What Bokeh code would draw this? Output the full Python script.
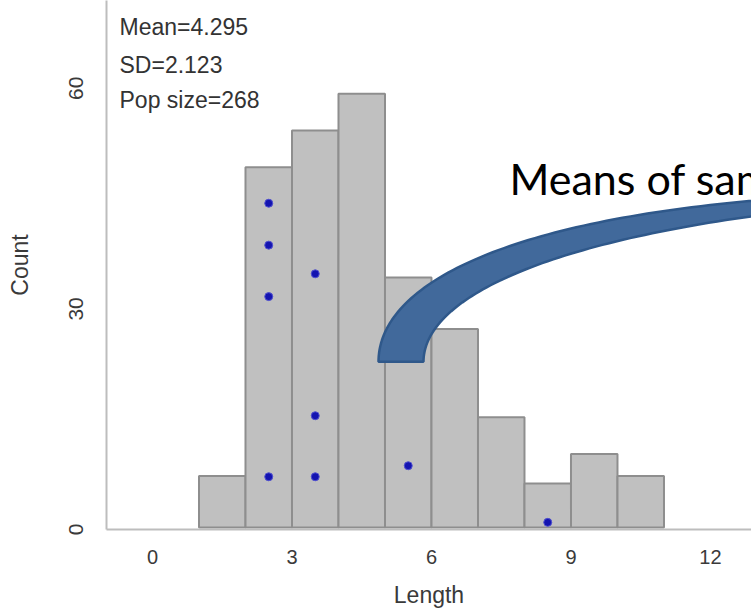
import math
import numpy as np
from bokeh.plotting import figure
from bokeh.models import Range1d, FixedTicker
from bokeh.core.properties import value
from bokeh.embed import file_html
from bokeh.resources import INLINE

# ---------------- data ----------------
bin_left = [1, 2, 3, 4, 5, 6, 7, 8, 9, 10]
bin_right = [2, 3, 4, 5, 6, 7, 8, 9, 10, 11]
counts = [7, 49, 54, 59, 34, 27, 15, 6, 10, 7]

mean_x = [2.5, 2.5, 2.5, 2.5, 3.5, 3.5, 3.5, 5.5, 8.5]
mean_y = [44.1, 38.4, 31.4, 6.9, 34.5, 15.2, 6.9, 8.4, 0.7]

x_ticks = [0, 3, 6, 9, 12]
y_ticks = [0, 30, 60]
y_tick_labels = ["0", "30", "60"]
stats_lines = ["Mean=4.295", "SD=2.123", "Pop size=268"]
callout = "Means of samples"

# ---------------- layout ----------------
W, H = 751, 610
FL, FT = 106, 0
FW, FH = W - FL, 530
X0, X1 = -0.989, 12.882
Y0, Y1 = -0.271, 71.67
PX_PER_Y = FH / (Y1 - Y0)


def dx(px):
    return X0 + (px - FL) / FW * (X1 - X0)


def dy(py):
    return Y1 - (py - FT) / FH * (Y1 - Y0)


p = figure(width=W, height=H, output_backend="svg", toolbar_location=None,
           x_range=Range1d(X0, X1), y_range=Range1d(Y0, Y1),
           min_border_left=FL, min_border_right=0, min_border_top=0,
           min_border_bottom=H - FH)
p.outline_line_color = None
p.grid.visible = False
p.background_fill_color = "white"
p.border_fill_color = "white"

tick_font = "Liberation Sans"
for ax in (p.xaxis[0], p.yaxis[0]):
    ax.axis_line_color = "#bdbdbd"
    ax.axis_line_width = 2
    ax.major_tick_line_color = None
    ax.minor_tick_line_color = None
    ax.major_tick_in = 0
    ax.major_tick_out = 0
    ax.minor_tick_in = 0
    ax.minor_tick_out = 0
    ax.major_label_text_font = tick_font
    ax.major_label_text_color = "#3a3a3a"
    ax.axis_label_text_font = tick_font
    ax.axis_label_text_font_size = "23px"
    ax.axis_label_text_font_style = "normal"
    ax.axis_label_text_color = "#3a3a3a"

p.xaxis.major_label_text_font_size = "20px"
p.yaxis.major_label_text_font_size = "21px"
p.xaxis.ticker = FixedTicker(ticks=x_ticks)

# rotated y labels: Bokeh anchors them at one end, so shift each tick by half its text length
Y_FS = 21
shifted = []
overrides = {}
for v, lab in zip(y_ticks, y_tick_labels):
    s = round(v + (len(lab) * 0.556 * Y_FS / 2 - 2) / PX_PER_Y, 3)
    shifted.append(s)
    overrides[s] = lab
p.yaxis.ticker = FixedTicker(ticks=shifted)
p.yaxis.major_label_overrides = overrides

p.xaxis.axis_label = "Length"
p.yaxis.axis_label = "Count"
p.xaxis.major_label_standoff = 20
p.xaxis.axis_label_standoff = 15
p.yaxis.major_label_standoff = 30
p.yaxis.axis_label_standoff = 27
p.yaxis.major_label_orientation = math.pi / 2

# histogram bars
p.quad(left=bin_left, right=bin_right, bottom=0, top=counts,
       fill_color="#c0c0c0", line_color="#8e8e8e", line_width=2)

# sample means
p.scatter(mean_x, mean_y, marker="circle", size=8,
          fill_color="#1414b0", line_color="#5050d0", line_width=1)

# stats text
p.text(x=[dx(119)] * 3, y=[dy(27), dy(65), dy(100)], text=stats_lines,
       text_font=value(tick_font), text_font_size="23px", text_color="#333333",
       text_baseline="alphabetic", text_align="left")

# curved callout arrow (decorative shape)
t = np.linspace(0, 1, 80)


def bez(a, b, c, d):
    return ((1 - t) ** 3)[:, None] * np.array(a) + (3 * (1 - t) ** 2 * t)[:, None] * np.array(b) \
        + (3 * (1 - t) * t ** 2)[:, None] * np.array(c) + (t ** 3)[:, None] * np.array(d)


outer = bez((378, 362), (378, 280), (520, 215), (800, 197))
inner = bez((423, 362), (423, 300), (540, 240), (800, 210))
poly = np.vstack([outer, inner[::-1]])
p.patch([dx(v) for v in poly[:, 0]], [dy(v) for v in poly[:, 1]],
        fill_color="#41699b", line_color="#2f588a", line_width=2.5)

# callout text (cropped at the right edge, as in the reference)
p.text(x=[dx(509)], y=[dy(178)], text=[callout],
       text_font=value("Lato"), text_font_size="43px", text_color="#000000",
       text_baseline="alphabetic", text_align="left")

open("out.html", "w").write(file_html(p, INLINE))
